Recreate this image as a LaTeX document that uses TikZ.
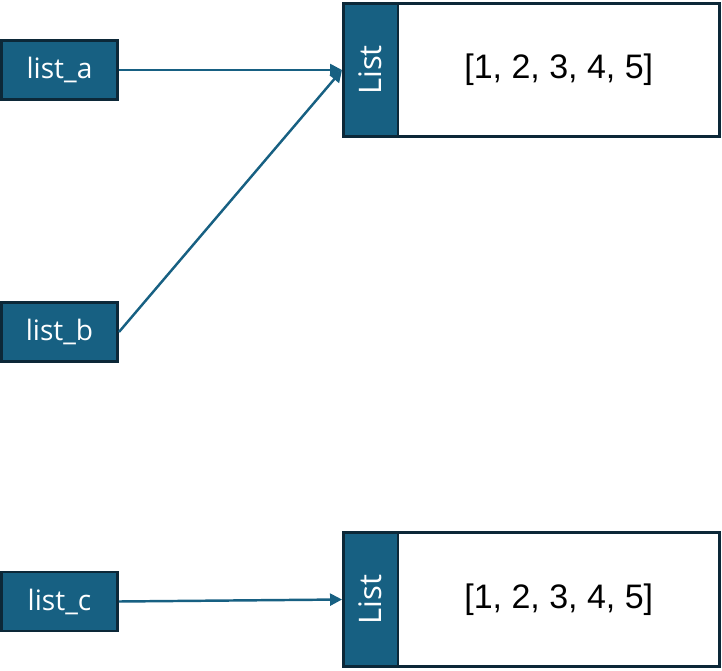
\documentclass[tikz,border=0pt]{standalone}
\usepackage{fontspec}
\setmainfont{Liberation Sans}
\newfontfamily\labelfont{Open Sans}
\usetikzlibrary{arrows.meta}
\definecolor{boxblue}{RGB}{23,96,130}
\definecolor{boxedge}{RGB}{12,40,56}
\begin{document}
\begin{tikzpicture}[x=0.03cm,y=-0.03cm,
    var/.style={draw=boxedge,fill=boxblue,line width=2.5pt,text=white,
      minimum width=3.48cm,minimum height=1.77cm,inner sep=0pt,
      font=\labelfont\fontsize{24}{28}\selectfont},
    tag/.style={draw=boxedge,fill=boxblue,line width=2.5pt,text=white,
      minimum width=1.635cm,minimum height=4cm,inner sep=0pt,
      font=\labelfont\fontsize{26.5}{30}\selectfont},
    val/.style={draw=boxedge,fill=white,line width=2.5pt,
      minimum width=9.645cm,minimum height=4cm,inner sep=0pt,
      font=\fontsize{29}{34}\selectfont},
    ref/.style={-{Triangle[length=0.36cm,width=0.36cm]},draw=boxblue,line width=2.1pt}]
    \useasboundingbox (0,0) rectangle (722,671);
    % first list object
    \node[val] (vala) at (558.75,70) {[1, 2, 3, 4, 5]};
    \node[tag] (taga) at (370.75,70) {\rotatebox{90}{List}};
    % second list object
    \node[val] (valc) at (558.75,599.5) {[1, 2, 3, 4, 5]};
    \node[tag] (tagc) at (370.75,599.5) {\rotatebox{90}{List}};
    % names
    \node[var] (lista) at (59.5,70) {list\_a};
    \node[var] (listb) at (59.5,332) {list\_b};
    \node[var] (listc) at (59.5,601.5) {list\_c};
    \draw [ref] (lista.east) -- (taga.west);
    \draw [ref] (listb.east) -- (taga.west);
    \draw [ref] (listc.east) -- (tagc.west);
\end{tikzpicture}
\end{document}
